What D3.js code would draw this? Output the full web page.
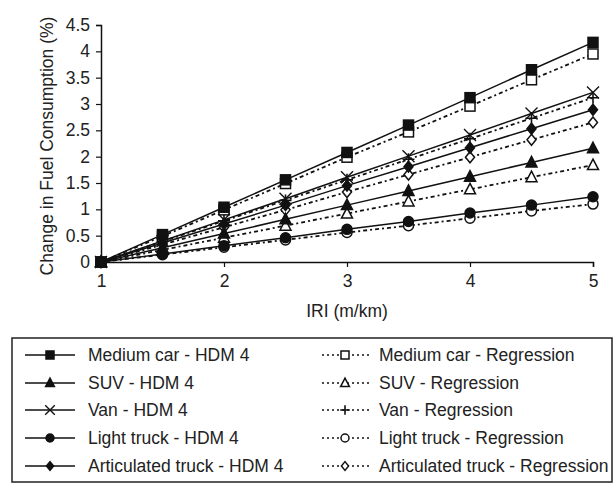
<!DOCTYPE html>
<html lang="en">
<head>
    <meta charset="UTF-8">
    <title>Change in Fuel Consumption vs IRI</title>
    <script src="https://d3js.org/d3.v7.min.js"></script>
    <style>
        body { margin: 0; background: #fff; }
        text { font-family: "Liberation Sans", Arial, sans-serif; fill: #222; }
    </style>
</head>
<body>
    <div id="chart"></div>

    <script>
        // Data
        var iri = [1, 1.5, 2, 2.5, 3, 3.5, 4, 4.5, 5];

        var mediumCarHdm = [0, 0.52, 1.04, 1.56, 2.08, 2.60, 3.12, 3.65, 4.17];
        var suvHdm = [0, 0.27, 0.54, 0.81, 1.08, 1.35, 1.62, 1.89, 2.16];
        var vanHdm = [0, 0.40, 0.80, 1.20, 1.61, 2.01, 2.41, 2.82, 3.22];
        var lightTruckHdm = [0, 0.15, 0.31, 0.46, 0.62, 0.77, 0.93, 1.08, 1.24];
        var articulatedHdm = [0, 0.36, 0.72, 1.08, 1.45, 1.81, 2.17, 2.53, 2.89];

        var mediumCarReg = [0, 0.49, 0.99, 1.49, 1.99, 2.47, 2.96, 3.46, 3.95];
        var suvReg = [0, 0.23, 0.46, 0.69, 0.92, 1.15, 1.38, 1.61, 1.84];
        var vanReg = [0, 0.39, 0.78, 1.17, 1.56, 1.95, 2.34, 2.73, 3.12];
        var lightTruckReg = [0, 0.14, 0.28, 0.42, 0.56, 0.69, 0.83, 0.97, 1.10];
        var articulatedReg = [0, 0.33, 0.66, 0.99, 1.33, 1.66, 1.99, 2.32, 2.65];

        var xTicks = [1, 2, 3, 4, 5];
        var yTicks = [0, 0.5, 1, 1.5, 2, 2.5, 3, 3.5, 4, 4.5];

        var series = [
            { name: "Medium car - HDM 4", values: mediumCarHdm, marker: "square", fill: "#111", dashed: false },
            { name: "SUV - HDM 4", values: suvHdm, marker: "triangle", fill: "#111", dashed: false },
            { name: "Van - HDM 4", values: vanHdm, marker: "x", fill: "#111", dashed: false },
            { name: "Light truck - HDM 4", values: lightTruckHdm, marker: "circle", fill: "#111", dashed: false },
            { name: "Articulated truck - HDM 4", values: articulatedHdm, marker: "diamond", fill: "#111", dashed: false },
            { name: "Medium car - Regression", values: mediumCarReg, marker: "square", fill: "#fff", dashed: true },
            { name: "SUV - Regression", values: suvReg, marker: "triangle", fill: "#fff", dashed: true },
            { name: "Van - Regression", values: vanReg, marker: "plus", fill: "#fff", dashed: true },
            { name: "Light truck - Regression", values: lightTruckReg, marker: "circle", fill: "#fff", dashed: true },
            { name: "Articulated truck - Regression", values: articulatedReg, marker: "diamond", fill: "#fff", dashed: true }
        ];

        var width = 615, height = 483;
        var fontSize = "17.5px";
        var svg = d3.select("#chart").append("svg")
            .attr("width", width)
            .attr("height", height);

        // Scales
        var x = d3.scaleLinear().domain([1, 5]).range([101, 593]);
        var y = d3.scaleLinear().domain([0, 4.5]).range([262, 25]);

        // Axes
        var xAxis = svg.append("g")
            .attr("transform", "translate(0," + y(0) + ")")
            .call(d3.axisBottom(x).tickValues(xTicks).tickSize(5).tickPadding(8).tickFormat(function (d) { return String(d); }));

        var yAxis = svg.append("g")
            .attr("transform", "translate(" + x(1) + ",0)")
            .call(d3.axisLeft(y).tickValues(yTicks).tickSize(5).tickPadding(6).tickFormat(function (d) { return String(d); }));

        [xAxis, yAxis].forEach(function (g) {
            g.select(".domain").attr("stroke", "#111").attr("stroke-width", 1.5);
            g.selectAll(".tick line").attr("stroke", "#111").attr("stroke-width", 1.2);
            g.selectAll(".tick text")
                .style("font-family", "'Liberation Sans', Arial, sans-serif")
                .style("font-size", fontSize)
                .attr("fill", "#222");
        });

        // Axis labels
        svg.append("text")
            .attr("text-anchor", "middle")
            .attr("x", (x(1) + x(5)) / 2)
            .attr("y", 317)
            .style("font-size", fontSize)
            .text("IRI (m/km)");

        svg.append("text")
            .attr("text-anchor", "middle")
            .attr("transform", "translate(53,146) rotate(-90)")
            .style("font-size", fontSize)
            .text("Change in Fuel Consumption (%)");

        // Marker drawing
        function drawMarker(g, type, fill, size) {
            var s = size || 1;
            if (type === "square") {
                g.append("rect").attr("x", -5 * s).attr("y", -5 * s).attr("width", 10 * s).attr("height", 10 * s)
                    .attr("fill", fill).attr("stroke", "#111").attr("stroke-width", 1.5);
            } else if (type === "triangle") {
                g.append("path").attr("d", "M0," + (-6 * s) + "L" + (5.5 * s) + "," + (4.5 * s) + "L" + (-5.5 * s) + "," + (4.5 * s) + "Z")
                    .attr("fill", fill).attr("stroke", "#111").attr("stroke-width", 1.5);
            } else if (type === "circle") {
                g.append("circle").attr("r", 5 * s)
                    .attr("fill", fill).attr("stroke", "#111").attr("stroke-width", 1.5);
            } else if (type === "diamond") {
                g.append("path").attr("d", "M0," + (-5.5 * s) + "L" + (4.5 * s) + ",0L0," + (5.5 * s) + "L" + (-4.5 * s) + ",0Z")
                    .attr("fill", fill).attr("stroke", "#111").attr("stroke-width", 1.5);
            } else if (type === "x") {
                g.append("path").attr("d", "M" + (-6 * s) + "," + (-6 * s) + "L" + (6 * s) + "," + (6 * s) + "M" + (6 * s) + "," + (-6 * s) + "L" + (-6 * s) + "," + (6 * s))
                    .attr("fill", "none").attr("stroke", "#111").attr("stroke-width", 1.4);
            } else if (type === "plus") {
                g.append("path").attr("d", "M" + (-6 * s) + ",0L" + (6 * s) + ",0M0," + (-6 * s) + "L0," + (6 * s))
                    .attr("fill", "none").attr("stroke", "#111").attr("stroke-width", 1.6);
            }
        }

        var line = d3.line()
            .x(function (d) { return x(d[0]); })
            .y(function (d) { return y(d[1]); });

        // Lines (regression first so solid HDM lines sit on top)
        var order = series.slice(5).concat(series.slice(0, 5));
        order.forEach(function (s) {
            var pts = iri.map(function (v, i) { return [v, s.values[i]]; });
            svg.append("path")
                .datum(pts)
                .attr("d", line)
                .attr("fill", "none")
                .attr("stroke", "#111")
                .attr("stroke-width", s.dashed ? 1.8 : 1.5)
                .attr("stroke-dasharray", s.dashed ? "4,3,2,3" : null);
        });

        order.forEach(function (s) {
            iri.forEach(function (v, i) {
                var g = svg.append("g").attr("transform", "translate(" + x(v) + "," + y(s.values[i]) + ")");
                drawMarker(g, s.marker, s.fill);
            });
        });

        // Legend
        var legend = svg.append("g");
        legend.append("rect")
            .attr("x", 12).attr("y", 338)
            .attr("width", 600).attr("height", 144)
            .attr("fill", "#fff").attr("stroke", "#222").attr("stroke-width", 1.5);

        var rowY = [355, 383, 410, 438, 466];
        series.forEach(function (s, i) {
            var col = i < 5 ? 0 : 1;
            var row = i % 5;
            var x0 = col === 0 ? 25 : 322;
            var x1 = col === 0 ? 75 : 372;
            var mx = col === 0 ? 50 : 345;
            var tx = col === 0 ? 88 : 379;
            var ly = rowY[row];
            legend.append("line")
                .attr("x1", x0).attr("x2", x1).attr("y1", ly).attr("y2", ly)
                .attr("stroke", "#111")
                .attr("stroke-width", s.dashed ? 1.6 : 1.5)
                .attr("stroke-dasharray", s.dashed ? "2,3" : null);
            var g = legend.append("g").attr("transform", "translate(" + mx + "," + ly + ")");
            drawMarker(g, s.marker, s.fill, 0.8);
            legend.append("text")
                .attr("x", tx).attr("y", ly)
                .attr("dy", "0.35em")
                .style("font-size", fontSize)
                .text(s.name);
        });
    </script>
</body>
</html>
